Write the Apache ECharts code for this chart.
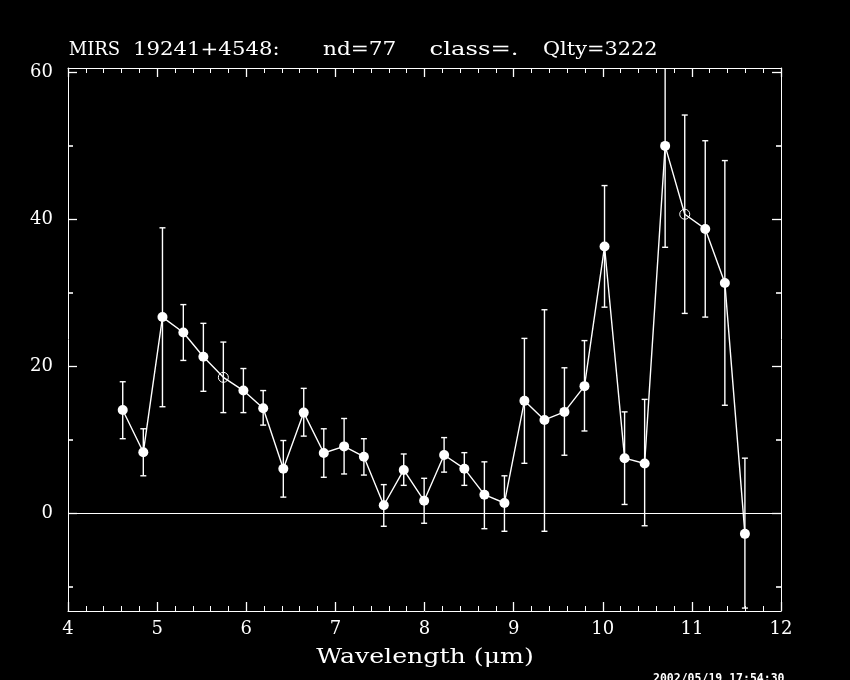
<!DOCTYPE html>
<html>
<head>
<meta charset="utf-8">
<script src="https://cdn.jsdelivr.net/npm/echarts@6/dist/echarts.min.js"></script>
<style>
html,body{margin:0;padding:0;background:#000;}
#chart{width:850px;height:680px;}
</style>
</head>
<body>
<div id="chart"></div>
<script>
// Data
const wavelength = [4.614, 4.845, 5.06, 5.294, 5.519, 5.743, 5.968, 6.19, 6.416, 6.645, 6.87, 7.098, 7.32, 7.543, 7.767, 7.996, 8.22, 8.447, 8.672, 8.897, 9.121, 9.346, 9.57, 9.795, 10.02, 10.245, 10.47, 10.70, 10.92, 11.15, 11.37, 11.595];
const flux = [14.05, 8.3, 26.7, 24.6, 21.3, 18.5, 16.7, 14.3, 6.07, 13.7, 8.2, 9.1, 7.7, 1.09, 5.9, 1.7, 7.93, 6.07, 2.53, 1.4, 15.3, 12.7, 13.8, 17.3, 36.3, 7.5, 6.77, 50.0, 40.7, 38.7, 31.35, -2.8];
const errTop = [17.9, 11.5, 38.85, 28.4, 25.85, 23.3, 19.7, 16.7, 9.9, 17.0, 11.5, 12.9, 10.15, 3.9, 8.07, 4.76, 10.3, 8.25, 7.0, 5.1, 23.8, 27.7, 19.8, 23.5, 44.6, 13.8, 15.5, 63.8, 54.2, 50.7, 48.0, 7.5];
const errBottom = [10.15, 5.1, 14.5, 20.8, 16.6, 13.7, 13.7, 12.0, 2.2, 10.5, 4.9, 5.35, 5.2, -1.77, 3.8, -1.36, 5.6, 3.8, -2.1, -2.45, 6.8, -2.45, 7.9, 11.2, 28.05, 1.2, -1.7, 36.2, 27.2, 26.7, 14.7, -12.9];
const openPoints = [5, 28];
const xTickLabels = [4, 5, 6, 7, 8, 9, 10, 11, 12];
const yMajorTicks = [0, 20, 40, 60];
const yMinorTicks = [-10, 10, 30, 50];
const titleParts = ['MIRS', '19241+4548:', 'nd=77', 'class=.', 'Qlty=3222'];
const xAxisName = 'Wavelength (μm)';
const stamp = '2002/05/19 17:54:30';

const X_MIN = 4, X_MAX = 12, Y_MIN = -13.3, Y_MAX = 60.6;
const W = '#ffffff';
const SERIF = '"DejaVu Serif", "Liberation Serif", serif';

const linePts = wavelength.map((x, i) => [x, flux[i]]);
const filledPts = linePts.filter((p, i) => openPoints.indexOf(i) < 0);
const openPts = linePts.filter((p, i) => openPoints.indexOf(i) >= 0);
const errData = wavelength.map((x, i) => [x, errBottom[i], errTop[i]]);

function xAxisDef(pos, showLabel) {
  return {
    type: 'value', position: pos, min: X_MIN, max: X_MAX, interval: 1,
    axisLine: { show: true, onZero: false, lineStyle: { color: W, width: 1 } },
    axisTick: { show: true, inside: true, length: 9, lineStyle: { color: W, width: 1.3 } },
    minorTick: { show: true, splitNumber: 5, length: 5, lineStyle: { color: W, width: 1 } },
    splitLine: { show: false },
    axisLabel: {
      show: showLabel, color: W, fontFamily: SERIF, fontSize: 18, margin: 9,
      customValues: xTickLabels
    }
  };
}
function yAxisDef(pos, ticks, len, showLabel, showLine) {
  return {
    type: 'value', position: pos, min: Y_MIN, max: Y_MAX,
    axisLine: { show: showLine, onZero: false, lineStyle: { color: W, width: 1 } },
    axisTick: { show: true, inside: true, length: len, customValues: ticks, lineStyle: { color: W, width: len > 6 ? 1.3 : 1.6 } },
    splitLine: { show: false },
    axisLabel: {
      show: showLabel, color: W, fontFamily: SERIF, fontSize: 18, margin: 15,
      customValues: yMajorTicks
    }
  };
}

const chart = echarts.init(document.getElementById('chart'));
const titleX = [68.7, 133, 323, 429.6, 543];
const titleScale = [1, 1.18, 1.2, 1.35, 1.16];

chart.setOption({
  backgroundColor: '#000',
  animation: false,
  grid: { left: 68, right: 69, top: 68, bottom: 69, containLabel: false },
  xAxis: [xAxisDef('bottom', true), xAxisDef('top', false)],
  yAxis: [
    yAxisDef('left', yMajorTicks, 9, true, true),
    yAxisDef('left', yMinorTicks, 5, false, false),
    yAxisDef('right', yMajorTicks, 9, false, true),
    yAxisDef('right', yMinorTicks, 5, false, false)
  ],
  graphic: [
    ...titleParts.map((t, i) => ({
      type: 'text', x: titleX[i], y: 50, scaleX: titleScale[i], silent: true,
      style: { text: t, fill: W, font: '18px ' + SERIF, align: 'left', verticalAlign: 'middle' }
    })),
    {
      type: 'text', x: 425, y: 658, scaleX: 1.2, silent: true,
      style: { text: xAxisName, fill: W, font: '21px ' + SERIF, align: 'center', verticalAlign: 'middle' }
    },
    {
      type: 'text', x: 653, y: 673, silent: true,
      style: { text: stamp, fill: W, font: 'bold 11.5px "DejaVu Sans Mono", monospace', align: 'left', verticalAlign: 'top' }
    }
  ],
  series: [
    {
      type: 'line', data: linePts, xAxisIndex: 0, yAxisIndex: 0,
      showSymbol: false, symbol: 'none', z: 2,
      lineStyle: { color: W, width: 1.4 },
      markLine: {
        silent: true, symbol: 'none', label: { show: false },
        lineStyle: { color: W, width: 1, type: 'solid' },
        data: [{ yAxis: 0 }]
      }
    },
    {
      type: 'custom', data: errData, xAxisIndex: 0, yAxisIndex: 0, z: 3, clip: true,
      renderItem: function (params, api) {
        const x = api.value(0);
        const lo = api.coord([x, api.value(1)]);
        const hi = api.coord([x, api.value(2)]);
        const cs = params.coordSys;
        const top = cs.y, bot = cs.y + cs.height;
        const yHi = Math.max(hi[1], top), yLo = Math.min(lo[1], bot);
        const cap = 3;
        const st = { stroke: W, lineWidth: 1.4 };
        const ch = [{ type: 'line', shape: { x1: lo[0], y1: yLo, x2: lo[0], y2: yHi }, style: st }];
        if (hi[1] >= top) ch.push({ type: 'line', shape: { x1: hi[0] - cap, y1: hi[1], x2: hi[0] + cap, y2: hi[1] }, style: st });
        if (lo[1] <= bot) ch.push({ type: 'line', shape: { x1: lo[0] - cap, y1: lo[1], x2: lo[0] + cap, y2: lo[1] }, style: st });
        return { type: 'group', children: ch };
      }
    },
    {
      type: 'scatter', data: filledPts, xAxisIndex: 0, yAxisIndex: 0, z: 4,
      symbol: 'circle', symbolSize: 10, itemStyle: { color: W, opacity: 1 }
    },
    {
      type: 'scatter', data: openPts, xAxisIndex: 0, yAxisIndex: 0, z: 4,
      symbol: 'circle', symbolSize: 10,
      itemStyle: { color: 'rgba(0,0,0,0)', borderColor: W, borderWidth: 1, opacity: 1 }
    }
  ]
});
</script>
</body>
</html>
